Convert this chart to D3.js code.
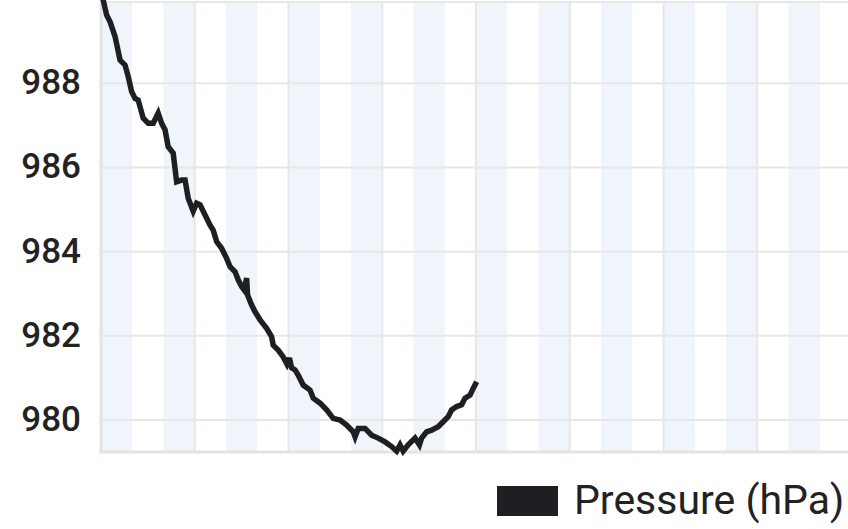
<!DOCTYPE html>
<html>
<head>
<meta charset="utf-8">
<script src="https://cdn.jsdelivr.net/npm/d3@7"></script>
<style>
  html, body { margin: 0; padding: 0; background: #ffffff; }
  svg { display: block; }
</style>
</head>
<body>
<svg id="chart" width="848" height="529"></svg>
<script>
// ---- data (hours since start, pressure in hPa) ----
const hours = [0, 0.07, 0.18, 0.29, 0.45, 0.61, 0.77, 0.87, 0.98, 1.09, 1.19, 1.35, 1.51, 1.67, 1.83, 1.94,
  2.05, 2.15, 2.31, 2.42, 2.58, 2.69, 2.79, 2.95, 3.06, 3.17, 3.33, 3.49, 3.59, 3.70, 3.86, 4.02, 4.13,
  4.29, 4.39, 4.50, 4.58, 4.66, 4.69, 4.82, 4.93, 5.09, 5.30, 5.46, 5.51, 5.67, 5.83, 5.95, 6.03, 6.10,
  6.21, 6.31, 6.47, 6.69, 6.79, 7.01, 7.22, 7.43, 7.65, 7.86, 8.07, 8.13, 8.23, 8.45, 8.66, 8.87, 9.09,
  9.30, 9.46, 9.57, 9.67, 9.83, 10.05, 10.19, 10.26, 10.42, 10.58, 10.79, 10.95, 11.11, 11.22, 11.38,
  11.54, 11.65, 11.81, 11.91, 12.02];
const pressure = [990.22, 989.98, 989.62, 989.46, 989.11, 988.55, 988.43, 988.16, 987.80, 987.64, 987.60,
  987.17, 987.05, 987.05, 987.29, 987.05, 986.89, 986.49, 986.34, 985.66, 985.70, 985.70, 985.27, 984.96,
  985.15, 985.11, 984.87, 984.63, 984.51, 984.24, 984.08, 983.84, 983.64, 983.52, 983.33, 983.17, 983.09,
  983.37, 982.97, 982.73, 982.57, 982.38, 982.18, 981.98, 981.78, 981.66, 981.50, 981.33, 981.47, 981.24,
  981.19, 981.07, 980.83, 980.71, 980.52, 980.40, 980.24, 980.04, 980.00, 979.88, 979.72, 979.60, 979.80,
  979.80, 979.64, 979.57, 979.48, 979.37, 979.26, 979.41, 979.26, 979.41, 979.57, 979.41, 979.57, 979.72,
  979.76, 979.84, 979.96, 980.08, 980.24, 980.32, 980.36, 980.52, 980.59, 980.75, 980.91];
const yTicks = [980, 982, 984, 986, 988];
const xGridHours = [3, 6, 9, 12, 15, 18, 21];
const bandStartHours = [0, 2, 4, 6, 8, 10, 12, 14, 16, 18, 20, 22];
const seriesName = "Pressure (hPa)";

(function () {
  // ---- layout ----
  const svg = d3.select("#chart");
  const pLeft = 101, pRight = 851, pTop = 2, pBottom = 452;
  const x = d3.scaleLinear().domain([0, 24]).range([pLeft, pRight]);
  const y = d3.scaleLinear().domain([979.24, 989.93]).range([pBottom, pTop]);

  const lineColor = "#1e1f23";
  const gridColor = "#e7e7e7";

  // alternating hour bands
  svg.append("g").selectAll("rect").data(bandStartHours).join("rect")
    .attr("x", d => x(d))
    .attr("y", pTop)
    .attr("width", d => x(d + 1) - x(d))
    .attr("height", pBottom - pTop)
    .attr("fill", "#eff5fb");

  // horizontal grid
  svg.append("g").selectAll("line").data(yTicks).join("line")
    .attr("x1", pLeft).attr("x2", pRight)
    .attr("y1", d => y(d)).attr("y2", d => y(d))
    .attr("stroke", gridColor).attr("stroke-width", 2);

  // top border
  svg.append("line").attr("x1", pLeft).attr("x2", pRight).attr("y1", pTop).attr("y2", pTop)
    .attr("stroke", gridColor).attr("stroke-width", 2);

  // vertical grid
  svg.append("g").selectAll("line").data(xGridHours).join("line")
    .attr("x1", d => x(d)).attr("x2", d => x(d))
    .attr("y1", pTop).attr("y2", pBottom)
    .attr("stroke", gridColor).attr("stroke-width", 2);

  // axis lines (left & bottom)
  svg.append("line").attr("x1", pLeft).attr("x2", pLeft).attr("y1", 0).attr("y2", pBottom + 1.5)
    .attr("stroke", "#e3e3e3").attr("stroke-width", 3);
  svg.append("line").attr("x1", pLeft - 1.5).attr("x2", pRight).attr("y1", pBottom).attr("y2", pBottom)
    .attr("stroke", "#e3e3e3").attr("stroke-width", 3);

  // y labels
  svg.append("g").selectAll("text").data(yTicks).join("text")
    .attr("x", 81)
    .attr("y", d => y(d) + 11)
    .attr("text-anchor", "end")
    .attr("font-family", "Roboto, sans-serif")
    .attr("font-size", 35)
    .attr("font-weight", 500)
    .attr("fill", "#222")
    .text(d => d);

  // line
  const pts = hours.map((h, i) => [h, pressure[i]]);
  const line = d3.line().x(d => x(d[0])).y(d => y(d[1]));
  svg.append("path")
    .datum(pts)
    .attr("d", line)
    .attr("fill", "none")
    .attr("stroke", lineColor)
    .attr("stroke-width", 5.5)
    .attr("stroke-linejoin", "miter")
    .attr("stroke-miterlimit", 3);

  // legend
  svg.append("rect").attr("x", 497).attr("y", 486).attr("width", 61).attr("height", 30).attr("fill", lineColor);
  svg.append("text").attr("x", 574).attr("y", 514)
    .attr("font-family", "Roboto, sans-serif")
    .attr("font-size", 41)
    .attr("fill", "#222")
    .text(seriesName);
})();
</script>
</body>
</html>
